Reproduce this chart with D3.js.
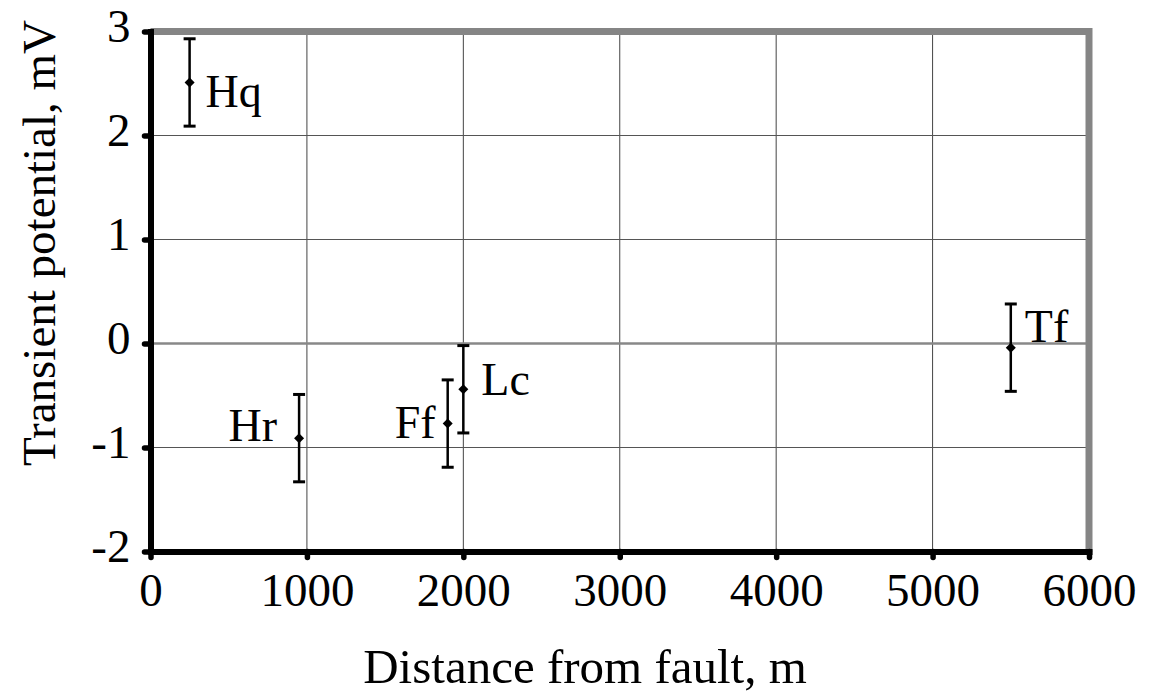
<!DOCTYPE html>
<html>
<head>
<meta charset="utf-8">
<script src="https://cdn.jsdelivr.net/npm/d3@7"></script>
<style>
  body { margin: 0; background: #fff; }
  text { font-family: "Liberation Serif", "Times New Roman", serif; fill: #000; }
</style>
</head>
<body>
<script>
// data
const sites = ["Hq", "Hr", "Ff", "Lc", "Tf"];
const distance = [250, 950, 1900, 2000, 5500];
const potential = [2.51, -0.91, -0.77, -0.44, -0.04];
const errorHalf = [0.42, 0.42, 0.42, 0.42, 0.42];
const xTicks = [0, 1000, 2000, 3000, 4000, 5000, 6000];
const yTicks = [-2, -1, 0, 1, 2, 3];

// where each site label sits relative to its point
const labelPlace = {
  Hq: { anchor: "start", dx: 16, dy: 25 },
  Hr: { anchor: "end", dx: -22, dy: 3 },
  Ff: { anchor: "end", dx: -12, dy: 14 },
  Lc: { anchor: "start", dx: 18, dy: 6 },
  Tf: { anchor: "start", dx: 14, dy: -6 }
};

const W = 1167, H = 698;
const pL = 150.5, pR = 1089, pT = 31.5, pB = 551.5;

const svg = d3.select("body").append("svg")
  .attr("width", W)
  .attr("height", H);

const x = d3.scaleLinear().domain([0, 6000]).range([pL, pR]);
const y = d3.scaleLinear().domain([-2, 3]).range([pB, pT]);

// plain hyphen for negatives, like the original
const fmt = d => String(d);

// grid
svg.append("g").selectAll("line")
  .data(xTicks.filter(d => d > 0 && d < 6000))
  .enter().append("line")
  .attr("x1", d => x(d)).attr("x2", d => x(d))
  .attr("y1", pT).attr("y2", pB)
  .attr("stroke", "#444").attr("stroke-width", 1);

svg.append("g").selectAll("line")
  .data(yTicks.filter(d => d > -2 && d < 3))
  .enter().append("line")
  .attr("x1", pL).attr("x2", pR)
  .attr("y1", d => y(d)).attr("y2", d => y(d))
  .attr("stroke", d => d == 0 ? "#888" : "#555")
  .attr("stroke-width", d => d == 0 ? 2.5 : 1);

// grey frame top + right
svg.append("path")
  .attr("d", `M${pL},${pT}H${pR}V${pB}`)
  .attr("fill", "none")
  .attr("stroke", "#858585")
  .attr("stroke-width", 7);

// axes
const xAxis = svg.append("g")
  .attr("transform", `translate(0,${pB})`)
  .call(d3.axisBottom(x).tickValues(xTicks).tickSize(6).tickSizeOuter(0).tickPadding(20).tickFormat(fmt));

const yAxis = svg.append("g")
  .attr("transform", `translate(${pL},0)`)
  .call(d3.axisLeft(y).tickValues(yTicks).tickSize(6).tickSizeOuter(0).tickPadding(14).tickFormat(fmt));

[xAxis, yAxis].forEach(g => {
  g.select(".domain").attr("stroke", "#000").attr("stroke-width", 6).attr("stroke-linecap", "square");
  g.selectAll(".tick line").attr("stroke", "#000").attr("stroke-width", 5.5).attr("stroke-linecap", "round");
  g.selectAll(".tick text").attr("font-size", 47).attr("font-family", "Liberation Serif").attr("fill", "#000");
});
yAxis.selectAll(".tick text").attr("dy", "0.22em");
xAxis.selectAll(".tick text").attr("dy", "0.6em");

// error bars
const pts = sites.map((s, i) => ({ name: s, d: distance[i], v: potential[i], e: errorHalf[i] }));

const bars = svg.append("g").selectAll("g")
  .data(pts).enter().append("g");

bars.append("line")
  .attr("x1", d => x(d.d)).attr("x2", d => x(d.d))
  .attr("y1", d => y(d.v + d.e)).attr("y2", d => y(d.v - d.e))
  .attr("stroke", "#000").attr("stroke-width", 2.5);

bars.selectAll(".cap")
  .data(d => [{ d: d.d, v: d.v + d.e }, { d: d.d, v: d.v - d.e }])
  .enter().append("line")
  .attr("x1", d => x(d.d) - 6).attr("x2", d => x(d.d) + 6)
  .attr("y1", d => y(d.v)).attr("y2", d => y(d.v))
  .attr("stroke", "#000").attr("stroke-width", 3);

bars.append("path")
  .attr("d", d3.symbol(d3.symbolDiamond2, 64))
  .attr("transform", d => `translate(${x(d.d)},${y(d.v)})`)
  .attr("fill", "#000");

bars.append("text")
  .attr("x", d => x(d.d) + labelPlace[d.name].dx)
  .attr("y", d => y(d.v) + labelPlace[d.name].dy)
  .attr("text-anchor", d => labelPlace[d.name].anchor)
  .attr("font-size", 46)
  .text(d => d.name);

// titles
svg.append("text")
  .attr("x", 585).attr("y", 683)
  .attr("text-anchor", "middle")
  .attr("font-size", 49)
  .text("Distance from fault, m");

svg.append("text")
  .attr("transform", `translate(55,243) rotate(-90)`)
  .attr("text-anchor", "middle")
  .attr("font-size", 47)
  .text("Transient potential, mV");
</script>
</body>
</html>
